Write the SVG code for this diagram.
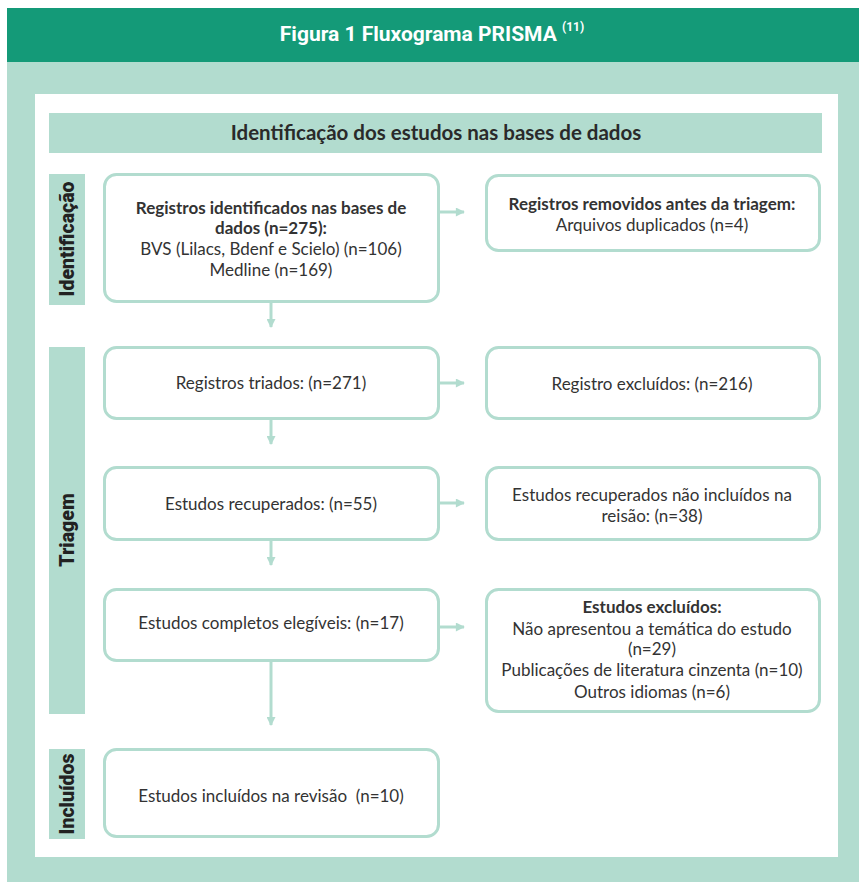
<svg xmlns="http://www.w3.org/2000/svg" width="859" height="882" viewBox="0 0 859 882">
<defs>
<style>
.lt{fill:#b2dccf}
.box{fill:#fff;stroke:#b2dccf;stroke-width:3}
.t{font-family:Lato,"Open Sans",sans-serif;font-size:17px;fill:#333;text-anchor:middle}
.b{font-weight:bold}
.side{font-family:Roboto,"Open Sans",sans-serif;font-size:19.5px;font-weight:900;fill:#222;text-anchor:middle}
.con{stroke:#b2dccf;stroke-width:3;fill:none;marker-end:url(#ah)}
</style>
<marker id="ah" viewBox="0 0 10 10" refX="9" refY="5" markerWidth="3.3" markerHeight="3" orient="auto" markerUnits="strokeWidth">
<path d="M0,0 L10,5 L0,10 z" fill="#b2dccf"/>
</marker>
</defs>
<rect x="0" y="0" width="859" height="882" fill="#fff"/>
<rect x="7" y="62" width="852" height="820" class="lt"/>
<rect x="7" y="8" width="852" height="54" fill="#149a78"/>
<text x="432" y="41" font-family="Roboto,Lato,sans-serif" font-size="21" font-weight="bold" fill="#fff" text-anchor="middle">Figura 1 Fluxograma PRISMA <tspan font-size="12" dy="-10">(11)</tspan></text>
<rect x="35" y="94" width="803" height="763" fill="#fff"/>
<rect x="49" y="113" width="773" height="40" class="lt"/>
<text x="436" y="140" font-family="Lato,'Open Sans',sans-serif" font-size="20.5" font-weight="bold" fill="#2a2a2a" text-anchor="middle">Identificação dos estudos nas bases de dados</text>

<g id="stage-identificacao">
<rect x="49" y="174" width="36" height="131" class="lt"/>
<text class="side" transform="translate(74,239) rotate(-90)">Identificação</text>
</g>
<g id="stage-triagem">
<rect x="49" y="347" width="36" height="367" class="lt"/>
<text class="side" transform="translate(74,530) rotate(-90)">Triagem</text>
</g>
<g id="stage-incluidos">
<rect x="49" y="749" width="36" height="90" class="lt"/>
<text class="side" transform="translate(74,794) rotate(-90)">Incluídos</text>
</g>

<g id="connectors">
<path class="con" d="M271,302 V327"/>
<path class="con" d="M271,419 V444"/>
<path class="con" d="M271,540 V565"/>
<path class="con" d="M271,661 V725"/>
<path class="con" d="M439,212 H464"/>
<path class="con" d="M439,383 H464"/>
<path class="con" d="M439,503 H464"/>
<path class="con" d="M439,627 H464"/>
</g>

<g id="n1">
<rect class="box" x="104.5" y="174.5" width="334" height="127" rx="12"/>
<text class="t b" x="271" y="214">Registros identificados nas bases de</text>
<text class="t b" x="271" y="234">dados (n=275):</text>
<text class="t" x="271" y="255">BVS (Lilacs, Bdenf e Scielo) (n=106)</text>
<text class="t" x="271" y="276">Medline (n=169)</text>
</g>
<g id="n2">
<rect class="box" x="486.5" y="175.5" width="333" height="75" rx="12"/>
<text class="t b" x="652" y="210">Registros removidos antes da triagem:</text>
<text class="t" x="652" y="231">Arquivos duplicados (n=4)</text>
</g>
<g id="n3">
<rect class="box" x="104.5" y="347.5" width="334" height="71" rx="12"/>
<text class="t" x="271" y="389">Registros triados: (n=271)</text>
</g>
<g id="n4">
<rect class="box" x="486.5" y="347.5" width="333" height="71" rx="12"/>
<text class="t" x="652" y="390">Registro excluídos: (n=216)</text>
</g>
<g id="n5">
<rect class="box" x="104.5" y="467.5" width="334" height="72" rx="12"/>
<text class="t" x="271" y="510">Estudos recuperados: (n=55)</text>
</g>
<g id="n6">
<rect class="box" x="486.5" y="467.5" width="333" height="72" rx="12"/>
<text class="t" x="652" y="501">Estudos recuperados não incluídos na</text>
<text class="t" x="652" y="522">reisão: (n=38)</text>
</g>
<g id="n7">
<rect class="box" x="104.5" y="589.5" width="334" height="71" rx="12"/>
<text class="t" x="271" y="629">Estudos completos elegíveis: (n=17)</text>
</g>
<g id="n8">
<rect class="box" x="486.5" y="589.5" width="333" height="122" rx="12"/>
<text class="t b" x="652" y="613">Estudos excluídos:</text>
<text class="t" x="652" y="635">Não apresentou a temática do estudo</text>
<text class="t" x="652" y="655">(n=29)</text>
<text class="t" x="652" y="676">Publicações de literatura cinzenta (n=10)</text>
<text class="t" x="652" y="698">Outros idiomas (n=6)</text>
</g>
<g id="n9">
<rect class="box" x="104.5" y="749.5" width="334" height="87" rx="12"/>
<text class="t" x="271" y="802" xml:space="preserve">Estudos incluídos na revisão  (n=10)</text>
</g>
</svg>
